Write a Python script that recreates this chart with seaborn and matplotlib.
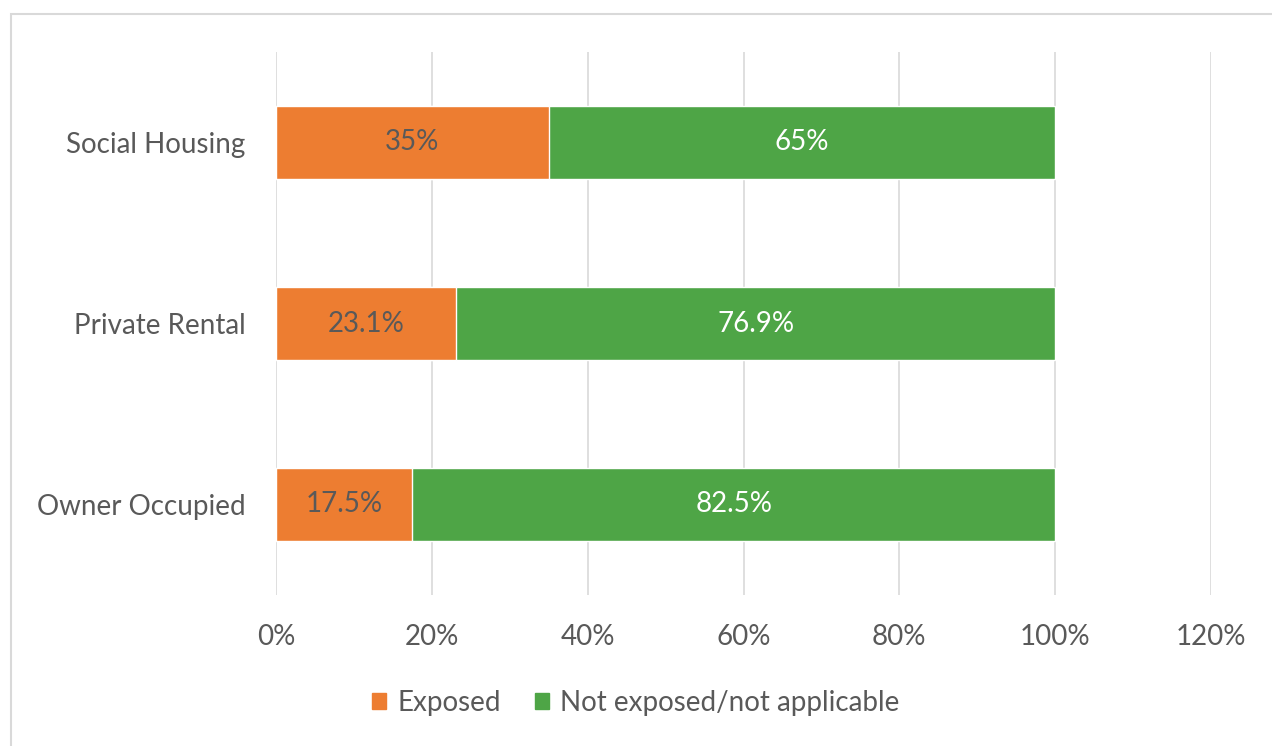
import matplotlib
matplotlib.use('Agg')
import matplotlib.pyplot as plt
import seaborn as sns
import pandas as pd
from matplotlib.patches import Rectangle, Patch

# data (top to bottom)
categories = ["Social Housing", "Private Rental", "Owner Occupied"]
exposed = [0.35, 0.231, 0.175]
not_exposed = [0.65, 0.769, 0.825]
exposed_labels = ["35%", "23.1%", "17.5%"]
not_exposed_labels = ["65%", "76.9%", "82.5%"]
series_names = ["Exposed", "Not exposed/not applicable"]

orange = "#ED7D31"
green = "#4EA546"
grey = "#595959"

sns.set_theme(style="white")
plt.rcParams['font.family'] = ['Lato', 'DejaVu Sans']

df = pd.DataFrame({
    "cat": categories,
    "exposed": exposed,
    "total": [a + b for a, b in zip(exposed, not_exposed)],
})

fig = plt.figure(figsize=(12.72, 7.46), dpi=100)
ax = fig.add_axes([276 / 1272, 1 - 595 / 746, (1211 - 276) / 1272, (595 - 52) / 746])

# green = full stack, orange drawn over it
sns.barplot(data=df, y="cat", x="total", color=green, width=0.4,
            saturation=1, ax=ax, order=categories, zorder=2)
sns.barplot(data=df, y="cat", x="exposed", color=orange, width=0.4,
            saturation=1, ax=ax, order=categories, zorder=3)

fs = 20
for i in range(len(categories)):
    ax.text(exposed[i] / 2, i, exposed_labels[i], ha='center', va='center',
            color=grey, fontsize=fs, zorder=4)
    ax.text(exposed[i] + not_exposed[i] / 2, i, not_exposed_labels[i],
            ha='center', va='center', color='white', fontsize=fs, zorder=4)

ax.set_xlim(0, 1.2)
ax.set_ylim(2.5, -0.5)
ax.set_xticks([0, 0.2, 0.4, 0.6, 0.8, 1.0, 1.2])
ax.set_xticklabels(["0%", "20%", "40%", "60%", "80%", "100%", "120%"])
ax.set_xlabel("")
ax.set_ylabel("")
ax.grid(axis='x', color="#D9D9D9", linewidth=1.2, zorder=0)
ax.set_axisbelow(True)
for s in ax.spines.values():
    s.set_visible(False)
ax.tick_params(axis='x', length=0, pad=21, labelsize=fs, labelcolor=grey)
ax.tick_params(axis='y', length=0, pad=22, labelsize=fs, labelcolor=grey)

handles = [Patch(color=orange), Patch(color=green)]
fig.legend(handles, series_names, loc='center', bbox_to_anchor=(0.5, 1 - 703 / 746),
           ncol=2, frameon=False, fontsize=fs, labelcolor=grey,
           handlelength=0.5, handleheight=0.5, handletextpad=0.4, columnspacing=1.25)

# outer chart frame
fig.patches.append(Rectangle((11 / 1272, -0.1), 1.2, 1 - 14 / 746 + 0.1,
                             transform=fig.transFigure, fill=False,
                             edgecolor="#D9D9D9", linewidth=1.5))

plt.savefig("out.png", dpi=100)
